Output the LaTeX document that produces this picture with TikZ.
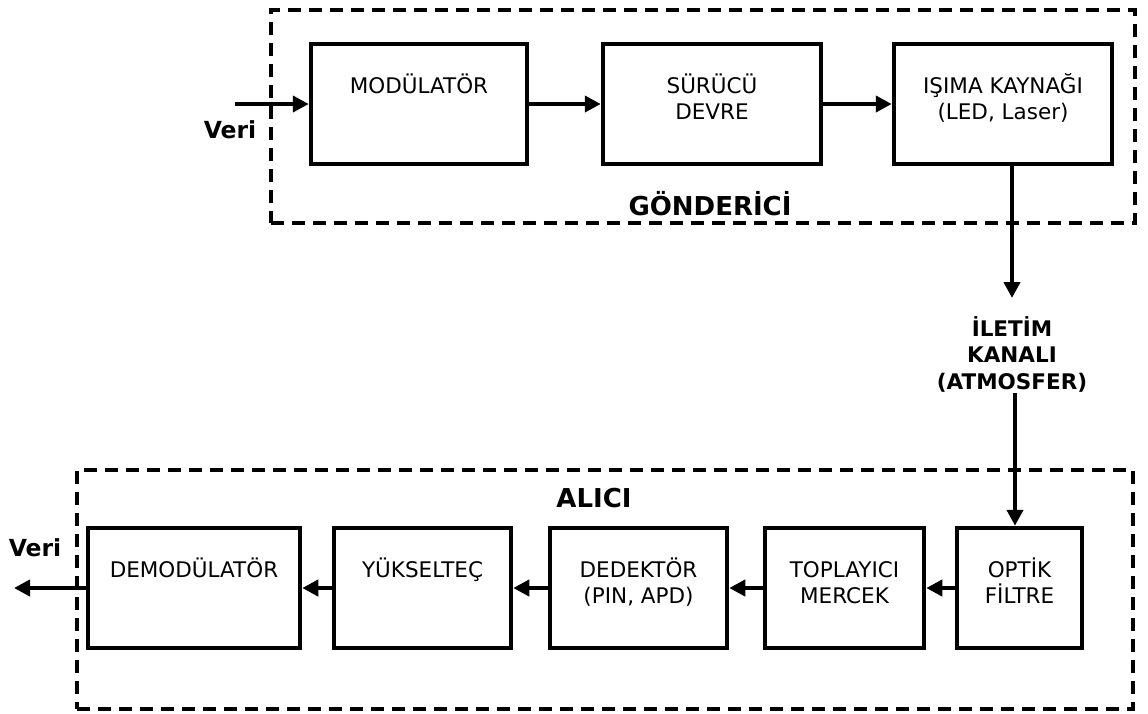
\documentclass[tikz,border=0pt]{standalone}
\usepackage{fontspec}
\setmainfont{DejaVu Sans}
\usetikzlibrary{arrows.meta}
\begin{document}
\begin{tikzpicture}[x=1pt,y=-1pt,
  blk/.style={draw, line width=4.5pt, rectangle, minimum height=120pt, inner sep=0pt},
  grp/.style={draw, line width=3.5pt, dash pattern=on 13pt off 8pt, rectangle, inner sep=0pt},
  arr/.style={line width=4.5pt, -{Triangle[length=16pt,width=16pt]}},
  txt/.style={font=\fontsize{21.5}{25.5}\selectfont, anchor=base, inner sep=0pt, yshift=-52pt},
  bold/.style={font=\fontsize{21.5}{26.5}\selectfont\bfseries, inner sep=0pt},
  veri/.style={font=\fontsize{23.5}{28}\selectfont\bfseries, inner sep=0pt},
  title/.style={font=\fontsize{26}{30}\selectfont\bfseries, inner sep=0pt},
]
\useasboundingbox (0,0) rectangle (1148,713);

% group frames
\node[grp, minimum width=864pt, minimum height=213pt] (tx) at (703,116.5) {};
\node[grp, minimum width=1056pt, minimum height=239pt] (rx) at (605,589.5) {};

% transmitter blocks
\node[blk, minimum width=216pt, label={[txt]north:{\parbox[t]{210pt}{\centering MODÜLATÖR}}}] (modul) at (419,104) {};
\node[blk, minimum width=218pt, label={[txt]north:{\parbox[t]{210pt}{\centering SÜRÜCÜ\\DEVRE}}}] (surucu) at (712,104) {};
\node[blk, minimum width=218pt, label={[txt]north:{\parbox[t]{210pt}{\centering IŞIMA KAYNAĞI\\(LED, Laser)}}}] (isima) at (1003,104) {};

% receiver blocks
\node[blk, minimum width=212pt, label={[txt]north:{\parbox[t]{210pt}{\centering DEMODÜLATÖR}}}] (demod) at (194,588) {};
\node[blk, minimum width=177pt, label={[txt]north:{\parbox[t]{210pt}{\centering YÜKSELTEÇ}}}] (yuks) at (422.5,588) {};
\node[blk, minimum width=177pt, label={[txt]north:{\parbox[t]{210pt}{\centering DEDEKTÖR\\(PIN, APD)}}}] (dedek) at (638.5,588) {};
\node[blk, minimum width=159pt, label={[txt]north:{\parbox[t]{210pt}{\centering TOPLAYICI\\MERCEK}}}] (topl) at (844.5,588) {};
\node[blk, minimum width=125pt, label={[txt]north:{\parbox[t]{210pt}{\centering OPTİK\\FİLTRE}}}] (optik) at (1019.5,588) {};

% labels
\node[veri] (veriin) at (230,130) {Veri};
\node[veri] (veriout) at (35,548) {Veri};
\node[title] (gond) at (710,204) {GÖNDERİCİ};
\node[title] (alici) at (594,498) {ALICI};
\node[bold, align=center] (chan) at (1012,354) {İLETİM\\KANALI\\(ATMOSFER)};

% connectors
\coordinate (vin) at (235,104);
\coordinate (vout) at (14,588);
\coordinate (chtop) at (1012,298);
\coordinate (chbot) at (1015,393);

\draw[arr] (vin) -- (modul.west);
\draw[arr] (modul.east) -- (surucu.west);
\draw[arr] (surucu.east) -- (isima.west);
\draw[arr] (isima.south -| chtop) -- (chtop);
\draw[arr] (chbot) -- (chbot |- optik.north);
\draw[arr] (optik.west) -- (topl.east);
\draw[arr] (topl.west) -- (dedek.east);
\draw[arr] (dedek.west) -- (yuks.east);
\draw[arr] (yuks.west) -- (demod.east);
\draw[arr] (demod.west) -- (vout);
\end{tikzpicture}
\end{document}
